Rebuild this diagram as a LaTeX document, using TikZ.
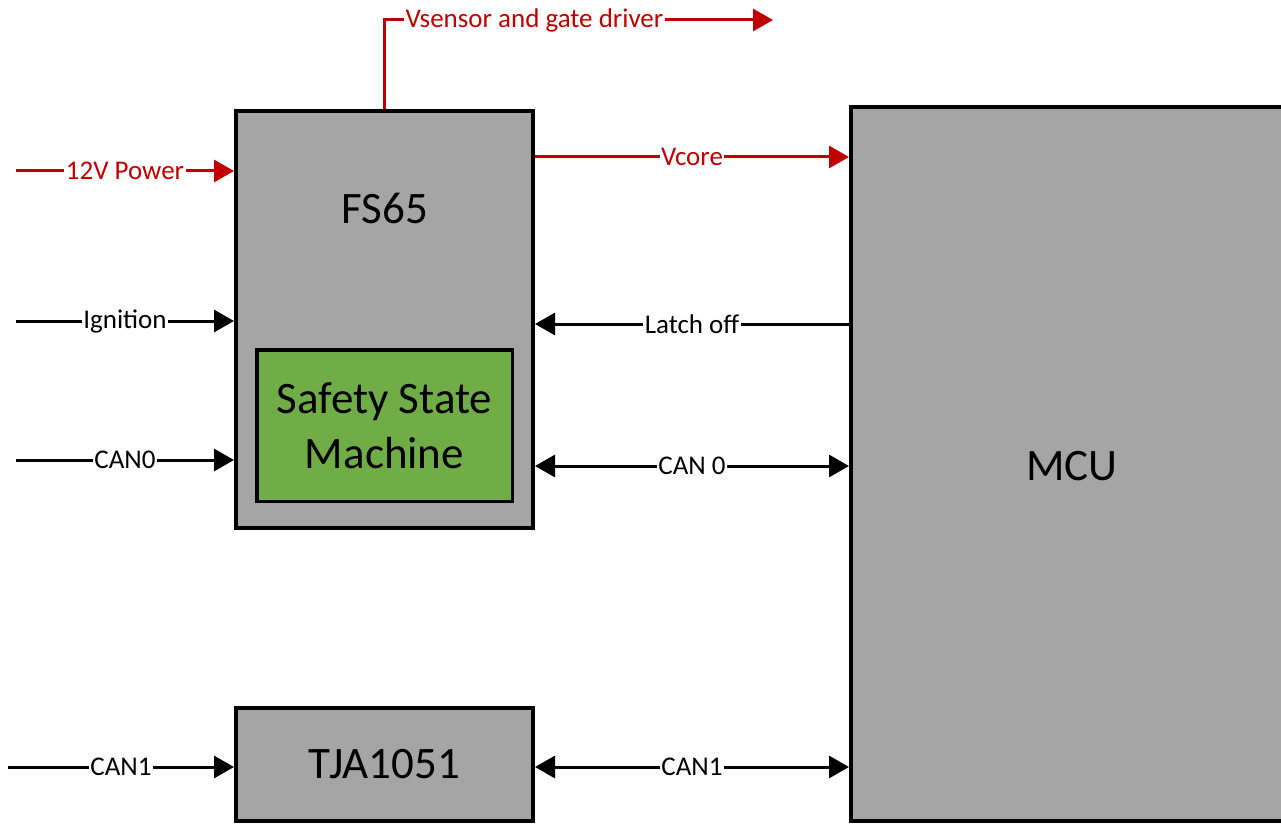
\documentclass[tikz,border=0pt]{standalone}
\usepackage{fontspec}
\setmainfont{Carlito}
\usetikzlibrary{arrows.meta}
\definecolor{boxgray}{HTML}{A5A5A5}
\definecolor{boxgreen}{HTML}{70AD47}
\definecolor{pwred}{HTML}{C00000}
\begin{document}
\begin{tikzpicture}[x=1pt,y=-1pt,
  block/.style={draw=black, line width=4pt, fill=boxgray, rectangle, inner sep=0pt,
    font=\fontsize{45}{55}\selectfont, align=center},
  greenblock/.style={draw=black, line width=3.5pt, fill=boxgreen, rectangle, inner sep=0pt,
    font=\fontsize{45}{55}\selectfont, align=center},
  bigtext/.style={font=\fontsize{45}{55}\selectfont, inner sep=0pt},
  tip/.tip={Triangle[length=20pt,width=22pt]},
  conn/.style={draw=black, line width=3pt, -tip},
  biconn/.style={draw=black, line width=3pt, tip-tip},
  redconn/.style={draw=pwred, line width=3pt, -tip},
  lbl/.style={fill=white, inner sep=1.5pt, font=\fontsize{27}{31}\selectfont, text=black},
  redlbl/.style={lbl, text=pwred}
]
\useasboundingbox (0,0) rectangle (1281,826);
\clip (0,0) rectangle (1281,826);

% blocks
\node[block, minimum width=297pt, minimum height=417pt] (fs65) at (384.5,319.5) {};
\node[bigtext] (fs65t) at (385,208) {FS65};
\node[greenblock, minimum width=255.5pt, minimum height=151.5pt] (ssm) at (384.5,425.5) {Safety State\\Machine};
\node[block, minimum width=467pt, minimum height=714pt] (mcu) at (1084.5,464) {};
\node[bigtext] (mcut) at (1072,466) {MCU};
\node[block, minimum width=297pt, minimum height=113pt] (tja) at (384.5,764.5) {TJA1051};

% free ends
\coordinate (in12) at (16,171);
\coordinate (inign) at (16,321);
\coordinate (incan0) at (16,460);
\coordinate (incan1) at (8,767);
\coordinate (vsend) at (773,20);
\coordinate (yvcore) at (0,157);
\coordinate (ylatch) at (0,324);
\coordinate (ycan0) at (0,466);
\coordinate (ycan1) at (0,767);

% power connectors
\draw[redconn] (in12) -- node[redlbl] {12V Power} (in12 -| fs65.west);
\draw[redconn] (fs65.north) |- node[redlbl, pos=0.693] {Vsensor and gate driver} (vsend);
\draw[redconn] (fs65.east |- yvcore) -- node[redlbl] {Vcore} (mcu.west |- yvcore);

% signal connectors
\draw[conn] (inign) -- node[lbl] {Ignition} (inign -| fs65.west);
\draw[conn] (incan0) -- node[lbl] {CAN0} (incan0 -| fs65.west);
\draw[conn] (incan1) -- node[lbl] {CAN1} (incan1 -| tja.west);
\draw[conn] (mcu.west |- ylatch) -- node[lbl] {Latch off} (fs65.east |- ylatch);
\draw[biconn] (fs65.east |- ycan0) -- node[lbl] {CAN 0} (mcu.west |- ycan0);
\draw[biconn] (tja.east |- ycan1) -- node[lbl] {CAN1} (mcu.west |- ycan1);
\end{tikzpicture}
\end{document}
